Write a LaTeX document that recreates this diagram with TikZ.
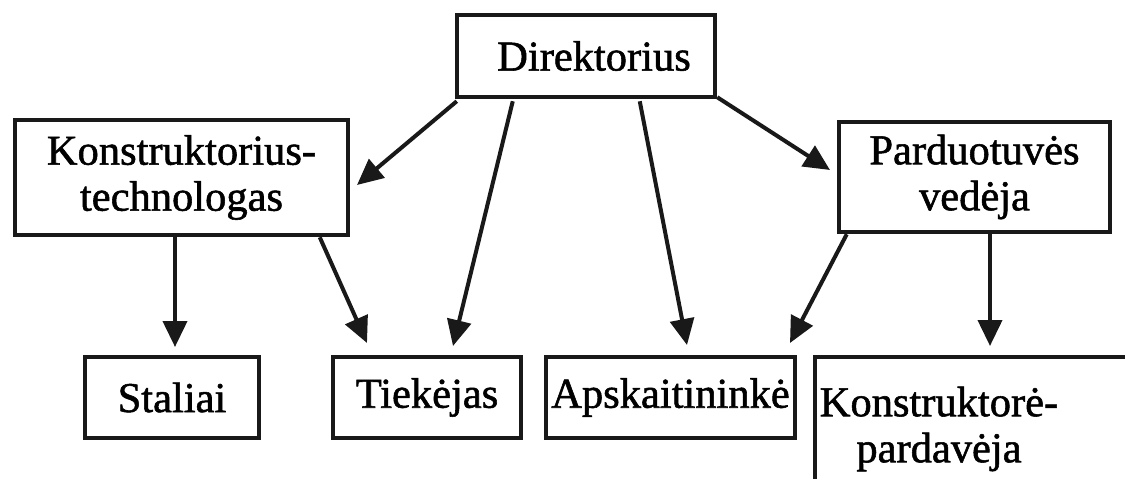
\documentclass[tikz,border=0pt]{standalone}
\usepackage{fontspec}
\newfontfamily\diafont{Liberation Serif}[FakeBold=1.3]
\usetikzlibrary{arrows.meta,calc}
\begin{document}
\begin{tikzpicture}[x=1pt,y=-1pt,
  box/.style={draw=black!90, line width=4.5pt, fill=white, inner sep=0pt, align=center,
    font=\diafont\fontsize{42.5}{46}\selectfont},
  lbl/.style={inner sep=0pt, align=center, font=\diafont\fontsize{42.5}{46}\selectfont},
  arr/.style={draw=black!90, line width=4pt, -{Triangle[length=26pt,width=24pt]}}]
\useasboundingbox (0,0) rectangle (1125,479);
\clip (0,0) rectangle (1125,479);
\fill[white] (0,0) rectangle (1125,479);
% boxes
\node[box, minimum width=258pt, minimum height=82pt] (dir) at (586,56) {\hspace*{16pt}Direktorius};
\node[box, minimum width=333pt, minimum height=115pt] (kt) at (181.5,177.5) {Konstruktorius-\\technologas};
\node[box, minimum width=271pt, minimum height=110pt] (pv) at (974.5,177) {Parduotuvės\\vedėja};
\node[box, minimum width=174pt, minimum height=81pt] (st) at (172,397.5) {Staliai};
\node[box, minimum width=188pt, minimum height=81pt] (tk) at (427,397.5) {Tiekėjas};
\node[box, minimum width=249pt, minimum height=81pt] (ap) at (670.5,397.5) {Apskaitininkė};
\draw[draw=black!90, line width=4.5pt] (815,357) rectangle (1160,520);
\node[lbl] (kp) at (939,429) {Konstruktorė-\\pardavėja};
% arrow tips
\coordinate (t1) at (357,185);
\coordinate (t2) at (830,170);
\coordinate (t3) at (175,347);
\coordinate (t4) at (367,343);
\coordinate (t5) at (453,346);
\coordinate (t6) at (687,345);
\coordinate (t7) at (790,343);
\coordinate (t8) at (990,346);
% arrows
\draw[arr] ($(dir.south west)+(2,2)$) -- (t1);
\draw[arr] ($(dir.south west)+(58,2)$) -- (t5);
\draw[arr] ($(dir.south west)+(185,2)$) -- (t6);
\draw[arr] ($(dir.south east)+(0,-2)$) -- (t2);
\draw[arr] (kt.south -| t3) -- (t3);
\draw[arr] ($(kt.south west)+(307,0)$) -- (t4);
\draw[arr] ($(pv.south west)+(10,0)$) -- (t7);
\draw[arr] (pv.south -| t8) -- (t8);
\end{tikzpicture}
\end{document}
